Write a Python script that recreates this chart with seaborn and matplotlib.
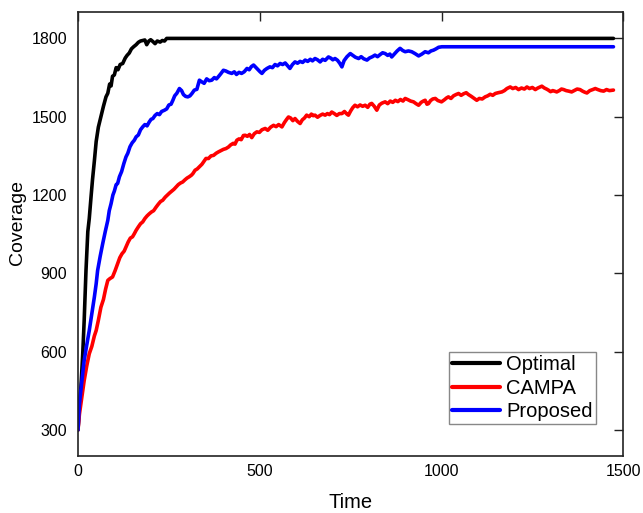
import matplotlib
matplotlib.use("Agg")
import matplotlib.pyplot as plt
import pandas as pd
import seaborn as sns

# values
optimal_t = [0, 4, 8, 13, 17, 22, 27, 31, 36, 40, 45, 50, 56, 63, 70, 77, 82, 87,
             91, 95, 100, 105, 110, 116, 123, 130, 135, 141, 147, 153, 160, 166,
             172, 178, 184, 189, 195, 200, 206, 212, 218, 226, 232, 238, 244, 1473]
optimal_v = [300, 390, 463, 590, 719, 911, 1060, 1110, 1195, 1260, 1330, 1405,
             1460, 1500, 1540, 1576, 1590, 1625, 1618, 1655, 1660, 1688, 1680,
             1700, 1704, 1725, 1735, 1744, 1760, 1768, 1776, 1785, 1790, 1792,
             1794, 1776, 1790, 1795, 1788, 1780, 1790, 1786, 1792, 1790, 1800, 1800]

campa_t = [0, 4, 10, 17, 24, 31, 38, 45, 50, 56, 63, 70, 76, 82, 88, 95, 102, 109,
           115, 121, 127, 132, 138, 144, 150, 155, 160, 166, 172, 178, 184, 190,
           196, 202, 208, 215, 221, 227, 233, 240, 246, 252, 258, 264, 270, 276,
           282, 288, 294, 300, 306, 312, 316, 322, 328, 335, 341, 347, 352, 359,
           366, 373, 380, 386, 393, 400, 407, 414, 420, 427, 432, 437, 443, 449,
           455, 460, 466, 472, 478, 485, 492, 499, 506, 515, 522, 530, 538, 545,
           552, 561, 568, 574, 579, 585, 591, 597, 604, 611, 617, 623, 629, 636,
           642, 647, 652, 659, 666, 673, 680, 686, 692, 698, 705, 712, 719, 726,
           733, 740, 744, 750, 756, 762, 769, 776, 783, 790, 797, 803, 808, 815,
           822, 829, 836, 845, 852, 859, 866, 873, 880, 887, 894, 900, 908, 915,
           923, 930, 937, 944, 950, 955, 960, 964, 970, 976, 983, 990, 1000, 1008,
           1014, 1019, 1026, 1033, 1040, 1047, 1054, 1061, 1068, 1074, 1082, 1090,
           1097, 1104, 1112, 1120, 1127, 1134, 1141, 1148, 1156, 1166, 1173, 1180,
           1189, 1196, 1204, 1212, 1220, 1228, 1235, 1242, 1250, 1258, 1265, 1271,
           1276, 1283, 1289, 1294, 1300, 1306, 1311, 1317, 1324, 1330, 1336, 1343,
           1350, 1358, 1365, 1373, 1381, 1388, 1394, 1400, 1408, 1416, 1423, 1430,
           1438, 1446, 1454, 1462, 1473]
campa_v = [300, 361, 420, 489, 545, 592, 620, 660, 681, 720, 770, 800, 840, 873,
           880, 886, 910, 937, 960, 975, 985, 1001, 1020, 1035, 1040, 1052, 1065,
           1078, 1090, 1097, 1110, 1120, 1128, 1135, 1140, 1154, 1165, 1175, 1180,
           1192, 1200, 1208, 1215, 1222, 1231, 1240, 1246, 1250, 1258, 1265, 1270,
           1276, 1282, 1295, 1300, 1310, 1318, 1330, 1340, 1340, 1350, 1352, 1360,
           1365, 1370, 1375, 1378, 1384, 1392, 1398, 1395, 1410, 1415, 1412, 1428,
           1429, 1425, 1432, 1420, 1435, 1442, 1440, 1450, 1455, 1448, 1460, 1467,
           1462, 1470, 1461, 1478, 1490, 1499, 1495, 1485, 1493, 1482, 1474, 1488,
           1495, 1506, 1500, 1510, 1504, 1506, 1498, 1505, 1510, 1506, 1512, 1508,
           1518, 1512, 1505, 1512, 1512, 1520, 1510, 1506, 1522, 1535, 1544, 1538,
           1545, 1540, 1544, 1536, 1548, 1551, 1540, 1525, 1545, 1552, 1557, 1550,
           1560, 1555, 1563, 1558, 1566, 1560, 1570, 1565, 1560, 1557, 1550, 1544,
           1555, 1560, 1563, 1548, 1550, 1562, 1568, 1570, 1562, 1557, 1565, 1572,
           1576, 1570, 1580, 1585, 1589, 1582, 1588, 1592, 1585, 1578, 1570, 1563,
           1570, 1568, 1576, 1580, 1586, 1582, 1589, 1592, 1595, 1600, 1608, 1614,
           1608, 1612, 1604, 1610, 1606, 1614, 1608, 1612, 1604, 1610, 1614, 1617,
           1610, 1606, 1602, 1596, 1600, 1598, 1595, 1600, 1606, 1604, 1600, 1598,
           1595, 1600, 1606, 1604, 1598, 1594, 1591, 1600, 1604, 1608, 1604, 1600,
           1598, 1604, 1600, 1602]

proposed_t = [0, 4, 10, 17, 24, 31, 38, 45, 50, 54, 61, 68, 75, 82, 86, 91, 96,
              100, 105, 109, 114, 120, 126, 132, 137, 143, 149, 155, 160, 166, 172,
              178, 184, 190, 196, 201, 206, 212, 218, 224, 230, 238, 244, 250, 256,
              261, 266, 272, 279, 285, 290, 296, 302, 308, 314, 320, 327, 334, 340,
              347, 354, 361, 368, 375, 381, 386, 393, 400, 407, 414, 423, 430, 436,
              443, 450, 457, 465, 471, 477, 483, 490, 496, 501, 506, 513, 520, 528,
              535, 542, 549, 556, 563, 570, 577, 583, 590, 597, 604, 611, 618, 625,
              632, 639, 645, 652, 659, 666, 673, 680, 689, 696, 701, 707, 714, 720,
              726, 732, 740, 749, 756, 763, 772, 779, 786, 795, 802, 810, 817, 824,
              831, 838, 845, 852, 858, 863, 870, 878, 886, 893, 900, 909, 918, 927,
              937, 946, 955, 964, 971, 978, 985, 992, 1001, 1473]
proposed_v = [300, 400, 480, 566, 625, 681, 745, 809, 860, 911, 965, 1014, 1060,
              1103, 1140, 1167, 1200, 1215, 1240, 1244, 1270, 1290, 1320, 1346,
              1360, 1385, 1400, 1410, 1423, 1430, 1450, 1461, 1470, 1465, 1480,
              1490, 1493, 1505, 1512, 1508, 1520, 1525, 1530, 1545, 1548, 1563,
              1580, 1590, 1608, 1600, 1585, 1578, 1576, 1580, 1590, 1602, 1605,
              1640, 1634, 1628, 1645, 1638, 1640, 1650, 1645, 1653, 1665, 1678,
              1675, 1670, 1666, 1672, 1662, 1670, 1666, 1672, 1685, 1680, 1692,
              1698, 1688, 1680, 1672, 1666, 1678, 1685, 1691, 1688, 1700, 1695,
              1704, 1700, 1706, 1695, 1685, 1700, 1710, 1705, 1712, 1708, 1717,
              1712, 1720, 1714, 1723, 1718, 1710, 1720, 1716, 1729, 1724, 1718,
              1723, 1716, 1705, 1691, 1715, 1730, 1742, 1735, 1728, 1723, 1730,
              1722, 1717, 1725, 1730, 1736, 1730, 1738, 1745, 1742, 1735, 1740,
              1729, 1740, 1752, 1762, 1754, 1749, 1752, 1749, 1742, 1733, 1740,
              1749, 1745, 1752, 1755, 1760, 1766, 1768, 1768]

labels = ["Optimal", "CAMPA", "Proposed"]
colors = ["#000000", "#ff0000", "#0000ff"]

df = pd.concat([
    pd.DataFrame({"Time": optimal_t, "Coverage": optimal_v, "Method": "Optimal"}),
    pd.DataFrame({"Time": campa_t, "Coverage": campa_v, "Method": "CAMPA"}),
    pd.DataFrame({"Time": proposed_t, "Coverage": proposed_v, "Method": "Proposed"}),
], ignore_index=True)

sns.set_style("white")
plt.rcParams["font.family"] = ["Liberation Sans", "DejaVu Sans"]
plt.rcParams["text.color"] = "black"
plt.rcParams["axes.labelcolor"] = "black"
plt.rcParams["xtick.color"] = "black"
plt.rcParams["ytick.color"] = "black"

fig = plt.figure(figsize=(6.43, 5.13), dpi=100)
ax = fig.add_axes([0.1213, 0.111, 0.848, 0.865])

sns.lineplot(
    data=df, x="Time", y="Coverage", hue="Method",
    hue_order=labels, palette=colors,
    estimator=None, sort=False, linewidth=2.6, ax=ax,
)

ax.set_xlim(0, 1500)
ax.set_ylim(200, 1900)
ax.set_xticks([0, 500, 1000, 1500])
ax.set_yticks([300, 600, 900, 1200, 1500, 1800])
ax.tick_params(direction="in", length=6.5, width=1, top=True, right=True,
               labelsize=11.5, color="#222222")
ax.tick_params(axis="x", pad=6)
ax.tick_params(axis="y", pad=8)
for s in ax.spines.values():
    s.set_color("#222222")
    s.set_linewidth(1.2)

ax.set_xlabel("Time", fontsize=14.5)
ax.set_ylabel("Coverage", fontsize=14)
ax.xaxis.set_label_coords(0.499, -0.104)
ax.xaxis.label.set_verticalalignment("center")
ax.yaxis.set_label_coords(-0.111, 0.527)
ax.yaxis.label.set_verticalalignment("center")

leg = ax.legend(
    loc="lower right", bbox_to_anchor=(0.95, 0.072), fontsize=14.5,
    frameon=True, fancybox=False, framealpha=1, edgecolor="#888888",
    handlelength=2.4, handletextpad=0.3, borderpad=0.15, labelspacing=0.22,
    borderaxespad=0,
)
leg.get_frame().set_linewidth(1)
for line in leg.get_lines():
    line.set_linewidth(3)

fig.savefig("out.png", dpi=100)
